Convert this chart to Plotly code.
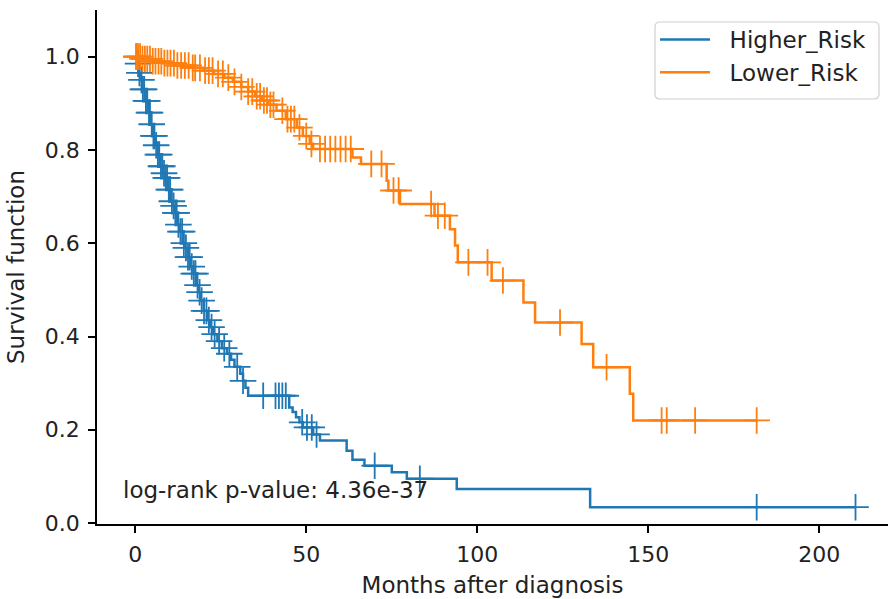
import plotly.graph_objects as go
import numpy as np

# ---------------- data ----------------
# Higher_Risk group: Kaplan-Meier step function (time in months, survival after step)
higher_times = [0, 0.5, 1, 1.5, 2, 3, 3.7, 4.5, 5.2, 5.8, 6.5, 7.2, 8, 8.7, 9.5, 10.3,
                11, 11.6, 12.3, 13, 14, 14.5, 15.3, 16, 17, 17.8, 18.5, 19, 20, 21,
                21.8, 22.8, 24, 25.3, 26.8, 28, 29, 30.7, 31.5, 32.2, 33, 45, 46, 47,
                48, 49, 52, 54, 61.8, 63.5, 67, 75, 79.4, 94, 133]
higher_surv = [1.0, 0.985, 0.965, 0.95, 0.93, 0.905, 0.88, 0.855, 0.83, 0.81, 0.79,
               0.765, 0.75, 0.74, 0.715, 0.69, 0.68, 0.665, 0.64, 0.625, 0.60, 0.59,
               0.57, 0.55, 0.535, 0.51, 0.495, 0.477, 0.455, 0.435, 0.42, 0.405, 0.39,
               0.375, 0.363, 0.35, 0.335, 0.32, 0.305, 0.29, 0.273, 0.248, 0.238,
               0.227, 0.216, 0.205, 0.19, 0.177, 0.155, 0.136, 0.123, 0.109, 0.095,
               0.073, 0.034]
higher_censored = [0.3, 0.8, 1.2, 1.8, 2.2, 2.6, 3.1, 3.5, 4.0, 4.3, 4.8, 5.3, 5.6, 6.1,
                   6.6, 7.0, 7.5, 7.9, 8.4, 8.9, 9.3, 9.8, 10.2, 10.7, 11.2, 11.7, 12.1,
                   12.6, 13.2, 13.7, 14.2, 14.8, 15.4, 15.9, 16.5, 17.1, 17.6, 18.2,
                   18.8, 19.4, 20.1, 20.8, 21.5, 22.3, 23.2, 24.5, 26, 27.5, 29.8, 31.5,
                   37.4, 41, 42, 43, 44, 48.8, 50.2, 51.6, 53, 70, 83.2, 181.7, 210.6]

# Lower_Risk group
lower_times = [0, 2, 5, 8, 12, 16, 20, 23, 26, 28.5, 31, 33, 35, 37, 38.8, 41.3, 44,
               47.2, 49, 51, 52, 63.5, 66, 73.5, 74, 77.4, 87.5, 92, 93.5, 94.3, 104.2,
               113.5, 116.9, 130.5, 133.9, 144.6, 145.6]
lower_surv = [1.0, 0.995, 0.99, 0.986, 0.981, 0.976, 0.97, 0.963, 0.955, 0.946, 0.935,
              0.925, 0.915, 0.906, 0.897, 0.884, 0.866, 0.848, 0.83, 0.813, 0.802,
              0.784, 0.77, 0.734, 0.713, 0.684, 0.659, 0.63, 0.595, 0.559, 0.52, 0.473,
              0.43, 0.384, 0.334, 0.277, 0.22]
lower_censored = [0.3, 0.8, 1.4, 2.1, 2.8, 3.5, 4.3, 5.1, 5.9, 6.8, 7.6, 8.5, 9.4, 10.3,
                  11.3, 12.3, 13.4, 14.5, 15.6, 16.8, 17.5, 18.9, 20.4, 21.5, 22.6, 24.2,
                  25.6, 27.2, 29, 31, 33, 34.2, 35.5, 36.5, 37.6, 38.5, 39.5, 40.4, 43,
                  44.5, 45.5, 46.5, 48, 50, 51.5, 54, 55.5, 57, 58.5, 60, 61.5, 63, 69,
                  72, 75.5, 77, 86.5, 88.5, 90.5, 97.4, 103, 107.5, 124.2, 137.8, 153.9,
                  155.4, 163.7, 181.7]

group_names = ["Higher_Risk", "Lower_Risk"]
group_colors = ["#1f77b4", "#ff7f0e"]
x_ticks = [0, 50, 100, 150, 200]
y_ticks = [0.0, 0.2, 0.4, 0.6, 0.8, 1.0]
p_value_text = "log-rank p-value: 4.36e-37"

FONT = "DejaVu Sans"


def surv_at(times, surv, t):
    idx = np.searchsorted(np.asarray(times), t, side="right") - 1
    return float(np.asarray(surv)[max(idx, 0)])


fig = go.Figure()

groups = [(higher_times, higher_surv, higher_censored),
          (lower_times, lower_surv, lower_censored)]

for (times, surv, cens), name, color in zip(groups, group_names, group_colors):
    end_t = max(max(cens), times[-1])
    line_x = list(times) + [end_t]
    line_y = list(surv) + [surv[-1]]
    fig.add_trace(go.Scatter(
        x=line_x, y=line_y, mode="lines", line=dict(color=color, width=2.5, shape="hv"),
        showlegend=False, hoverinfo="skip"))
    cens_y = [surv_at(times, surv, c) for c in cens]
    fig.add_trace(go.Scatter(
        x=cens, y=cens_y, mode="markers",
        marker=dict(symbol="cross-thin", size=19, line=dict(color=color, width=1.8)),
        showlegend=False, hoverinfo="skip"))

for name, color in zip(group_names, group_colors):
    fig.add_trace(go.Scatter(x=[None], y=[None], mode="lines",
                             name="\u00a0\u00a0" + name,
                             line=dict(color=color, width=2.5)))

fig.add_annotation(x=-4.3, y=0.071, xref="x", yref="y", text=p_value_text,
                   showarrow=False, xanchor="left", yanchor="middle",
                   font=dict(family=FONT, size=23, color="#222"))

# rounded legend frame (matplotlib style)
W, H = 888, 599
ML, MR, MT, MB = 97, 0, 10, 75
pw, ph = W - ML - MR, H - MT - MB


def px_to_paper(px, py):
    return (px - ML) / pw, (H - MB - py) / ph


x0, y0 = px_to_paper(655, 99)
x1, y1 = px_to_paper(879, 22)
rx, ry = 5 / pw, 5 / ph
path = (f"M{x0 + rx},{y1} L{x1 - rx},{y1} Q{x1},{y1} {x1},{y1 - ry} "
        f"L{x1},{y0 + ry} Q{x1},{y0} {x1 - rx},{y0} L{x0 + rx},{y0} "
        f"Q{x0},{y0} {x0},{y0 + ry} L{x0},{y1 - ry} Q{x0},{y1} {x0 + rx},{y1} Z")
fig.add_shape(type="path", path=path, xref="paper", yref="paper",
              line=dict(color="#d0d0d0", width=1.2), fillcolor="rgba(255,255,255,0.8)",
              layer="above")

lx, ly = px_to_paper(655, 18)

axis_common = dict(showgrid=False, zeroline=False, showline=True, linecolor="black",
                   linewidth=1.5, ticks="outside", ticklen=7, tickwidth=1.5,
                   tickcolor="black", mirror=False,
                   tickfont=dict(family=FONT, size=22, color="#222"))

fig.update_layout(
    width=W, height=H,
    margin=dict(l=ML, r=MR, t=MT, b=MB),
    plot_bgcolor="white", paper_bgcolor="white",
    font=dict(family=FONT, size=23, color="#222"),
    xaxis=dict(range=[-11.2, 220.1], tickvals=x_ticks, ticklabelstandoff=3,
               title=dict(text="Months after diagnosis", font=dict(family=FONT, size=23, color="#222"),
                          standoff=11),
               **axis_common),
    yaxis=dict(range=[-0.002, 1.1], tickvals=y_ticks, tickformat=".1f", ticklabelstandoff=4,
               title=dict(text="Survival function", font=dict(family=FONT, size=23, color="#222"),
                          standoff=14),
               **axis_common),
    legend=dict(x=lx, y=ly, xanchor="left", yanchor="top",
                bgcolor="rgba(0,0,0,0)", borderwidth=0,
                font=dict(family=FONT, size=23, color="#222"), itemwidth=50),
)

fig.write_html("out.html")
